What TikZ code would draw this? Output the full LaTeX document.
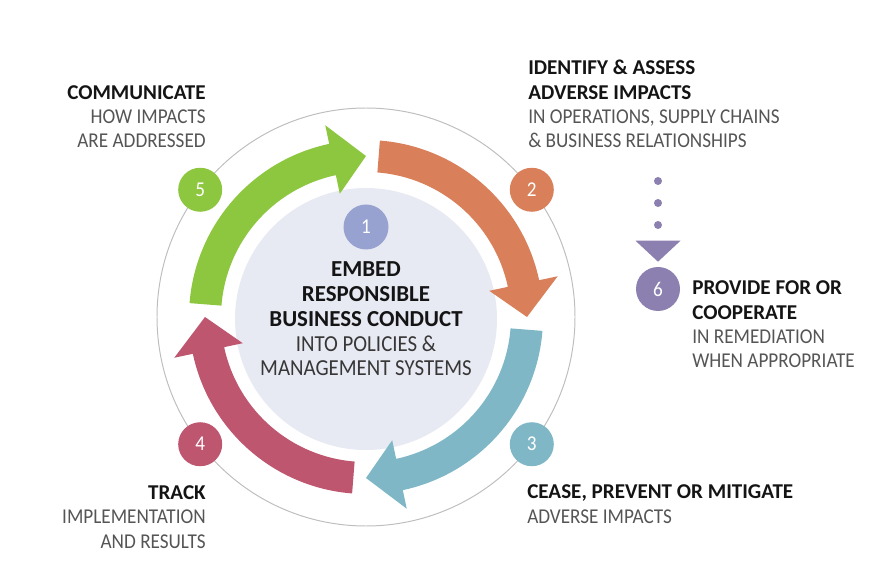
\documentclass[tikz,border=0pt]{standalone}
\usepackage{fontspec}
\setmainfont{Carlito}[FakeStretch=0.91, BoldFeatures={FakeStretch=1.0}]
\usepackage{tikz}
\usetikzlibrary{positioning,arrows.meta}
\usepackage{xcolor}

\definecolor{stepgreen}{RGB}{141,198,63}
\definecolor{steporange}{RGB}{217,128,90}
\definecolor{stepteal}{RGB}{127,183,198}
\definecolor{stepred}{RGB}{190,86,112}
\definecolor{steplilac}{RGB}{152,162,208}
\definecolor{steppurple}{RGB}{140,128,176}
\definecolor{corefill}{RGB}{232,234,243}
\definecolor{ringgray}{RGB}{190,190,190}
\definecolor{headtext}{RGB}{20,20,20}
\definecolor{subtext}{RGB}{85,85,85}

\newcommand{\steptitle}[1]{\textcolor{headtext}{\bfseries #1}}

\begin{document}
\begin{tikzpicture}[
    numdot/.style={circle, inner sep=0pt, minimum size=1.1cm, text=white, font=\fontsize{15}{15}\selectfont},
    steplabel/.style={inner sep=0pt, text=subtext, font=\fontsize{15}{17.4}\selectfont}
  ]
  \useasboundingbox (-9.15,-6.6) rectangle (12.65,7.925);

  % Outer ring
  \draw[ringgray, line width=0.7pt] (0,0) circle (5.225);

  % Centre: embed
  \node[steplabel, circle, fill=corefill, minimum size=6.55cm, align=center,
    font=\fontsize{16.3}{17.6}\selectfont, text=headtext!85] (core) at (0,-0.05)
    {\steptitle{EMBED}\\\steptitle{RESPONSIBLE}\\\steptitle{BUSINESS CONDUCT}\\INTO POLICIES \&\\MANAGEMENT SYSTEMS};
  \node[numdot, fill=steplilac, minimum size=1.125cm] (one) at (0,2.25) {1};

  % Cycle arrows, tip angle per step
  \foreach \col/\tip in {steporange/0, stepteal/-90, stepred/-180, stepgreen/90}
    \fill[\col] ({\tip+85.5}:4.425) arc[start angle={\tip+85.5}, end angle={\tip+12}, radius=4.425]
      -- ({\tip+12}:4.9) -- (\tip:4.025) -- ({\tip+12}:3.15) -- ({\tip+12}:3.625)
      arc[start angle={\tip+12}, end angle={\tip+85.5}, radius=3.625] -- cycle;

  % Step numbers on the ring
  \node[numdot, fill=steporange] (two) at (37.5:5.225) {2};
  \node[numdot, fill=stepteal] (three) at (-37.5:5.225) {3};
  \node[numdot, fill=stepred] (four) at (-142.5:5.225) {4};
  \node[numdot, fill=stepgreen] (five) at (142.5:5.225) {5};

  % Remediation branch
  \node[numdot, fill=steppurple] (six) at (7.3,0.7) {6};
  \coordinate (dots) at (7.3,3.4);
  \draw[steppurple, line width=0.2cm, line cap=round, dash pattern=on 0pt off 0.55cm,
    -{Triangle[width=1.125cm, length=0.525cm, line width=0pt]}] (dots) -- ([yshift=0.125cm]six.north);

  % Labels (anchored at the baseline of their last line)
  \node[steplabel, align=right, anchor=base east] (communicate) at (-4.0,4.225)
    {\steptitle{COMMUNICATE}\\HOW IMPACTS\\ARE ADDRESSED};
  \node[steplabel, align=left, anchor=base west] (identify) at (4.05,4.225)
    {\steptitle{IDENTIFY \& ASSESS}\\\steptitle{ADVERSE IMPACTS}\\IN OPERATIONS, SUPPLY CHAINS\\\& BUSINESS RELATIONSHIPS};
  \node[steplabel, align=left, anchor=base west] (cease) at (4.025,-5.15)
    {\steptitle{CEASE, PREVENT OR MITIGATE}\\ADVERSE IMPACTS};
  \node[steplabel, align=right, anchor=base east] (track) at (-4.0,-5.775)
    {\steptitle{TRACK}\\IMPLEMENTATION\\AND RESULTS};
  \node[steplabel, align=left, anchor=base west] (provide) at (8.15,-1.275)
    {\steptitle{PROVIDE FOR OR}\\\steptitle{COOPERATE}\\IN REMEDIATION\\WHEN APPROPRIATE};
\end{tikzpicture}
\end{document}
